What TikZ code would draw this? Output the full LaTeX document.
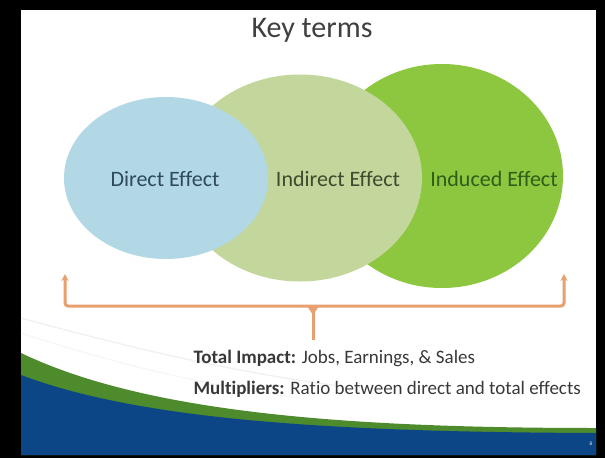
\documentclass[tikz,border=0pt]{standalone}
\usepackage{fontspec}
\setmainfont{Carlito}[Ligatures=NoCommon]
\usetikzlibrary{arrows.meta,shapes.geometric}
\definecolor{directcol}{HTML}{B2D8E6}
\definecolor{indirectcol}{HTML}{C3D69B}
\definecolor{inducedcol}{HTML}{8DC63F}
\definecolor{directtxt}{HTML}{2E4A5C}
\definecolor{indirecttxt}{HTML}{3E4B2E}
\definecolor{inducedtxt}{HTML}{2F5E1A}
\definecolor{bracecol}{HTML}{E8A06E}
\definecolor{bandblue}{HTML}{0C4687}
\definecolor{bandgreen}{HTML}{4E8B2C}

\begin{document}
\begin{tikzpicture}[
  x=1pt, y=-1pt,
  effect/.style={ellipse, inner sep=0pt, draw=none},
  efflabel/.style={font=\fontsize{22}{26}\selectfont},
  bracket/.style={draw=bracecol, line width=3pt, rounded corners=3pt},
  note/.style={font=\fontsize{19}{22}\selectfont, text=black!78, anchor=west},
]

% ============================================================
% SLIDE: black frame, white page, blue/green band at the foot
% ============================================================
\fill[black] (0,0) rectangle (605,458);
\fill[white] (21,10) rectangle (596,455);

\draw[black!6, line width=1.2pt] (21,318) .. controls (120,345) and (230,372) .. (340,386);
\draw[black!4, line width=1pt] (21,333) .. controls (110,362) and (200,385) .. (300,398);

\fill[bandgreen] (21,353) .. controls (140,410) and (330,428) .. (596,428)
  -- (596,455) -- (21,455) -- cycle;
\fill[bandblue] (21,375) .. controls (140,420) and (330,432) .. (596,433)
  -- (596,455) -- (21,455) -- cycle;

\node[font=\fontsize{5}{6}\selectfont, text=white] (pagenum) at (591,444) {8};

% Title
\node[font=\fontsize{30}{36}\selectfont, text=black!75] (title) at (312,30) {Key terms};

% ============================================================
% THREE EFFECTS (back to front)
% ============================================================
\node[effect, fill=inducedcol, minimum width=242pt, minimum height=224pt] (induced) at (442,176) {};
\node[effect, fill=indirectcol, minimum width=244pt, minimum height=207pt] (indirect) at (300,178) {};
\node[effect, fill=directcol, minimum width=204pt, minimum height=162pt] (direct) at (166,178) {};

\node[efflabel, text=directtxt] (directlbl) at (165,179) {Direct Effect};
\node[efflabel, text=indirecttxt] (indirectlbl) at (338,179) {Indirect Effect};
\node[efflabel, text=inducedtxt] (inducedlbl) at (494,179) {Induced Effect};

% ============================================================
% BRACKET and notes
% ============================================================
\coordinate (ltip) at (65,274);
\coordinate (rtip) at (564,274);
\coordinate (join) at (313,306);
\coordinate (stem) at (313,340);

\draw[bracket, {Stealth[length=7pt, width=7pt]}-{Stealth[length=7pt, width=7pt]}]
  (ltip) |- (join) -| (rtip);
\draw[bracket] (join) -- (stem);
\fill[bracecol] ([xshift=-6pt]join) -- ([yshift=-9pt]join) -- ([xshift=6pt]join) -- cycle;

\node[note] (total) at (190,358) {\textbf{Total Impact:} Jobs, Earnings, \& Sales};
\node[note] (mult) at (190,389) {\textbf{Multipliers:} Ratio between direct and total effects};

\end{tikzpicture}
\end{document}
